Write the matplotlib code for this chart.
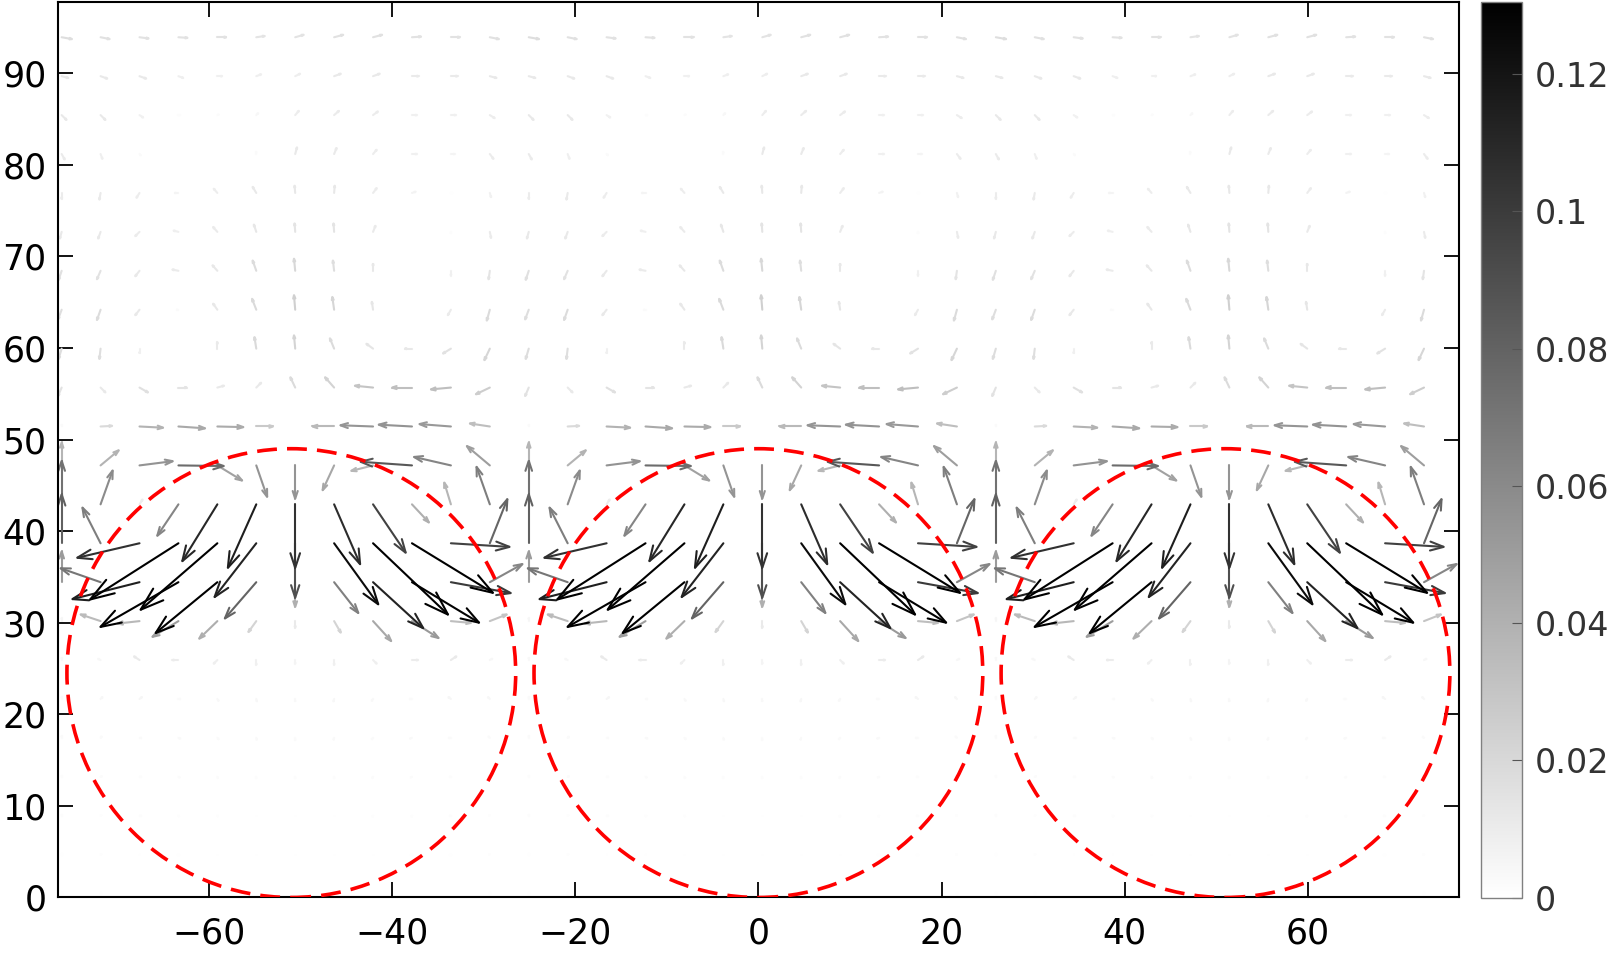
"""
Flow field above a periodic row of spheres, drawn as a MATLAB-style quiver
(open V heads) coloured by speed, with the sphere outlines dashed in red.
"""

import matplotlib

matplotlib.use("Agg")
import matplotlib.pyplot as plt
import numpy as np
from matplotlib.cm import ScalarMappable
from matplotlib.collections import LineCollection
from matplotlib.colors import Normalize
from matplotlib.patches import Circle

# ---------------------------------------------------------------- data
# one periodic cell of the field (the picture repeats it three times)
CELL_CENTERS = [-51.0, 0.0, 51.0]
CELL_X = [-25.075, -20.825, -16.575, -12.325, -8.075, -3.825,
          0.425, 4.675, 8.925, 13.175, 17.425, 21.675]
ROW_Y = [0.425, 4.675, 8.925, 13.175, 17.425, 21.675, 25.925, 30.175,
         34.425, 38.675, 42.925, 47.175, 51.425, 55.675, 59.925, 64.175,
         68.425, 72.675, 76.925, 81.175, 85.425, 89.675, 93.925]

# velocity components, one row per ROW_Y (bottom to top), one entry per CELL_X
U_CELL = [
    [0, 0, 0, 0, 0, 0, 0, 0, 0, 0, 0, 0],
    [0, 0.001, 0.001, 0.001, 0, 0, 0, 0, 0, -0.001, -0.001, -0.001],
    [0, 0.001, 0.002, 0.001, 0.001, 0, 0, 0, -0.001, -0.001, -0.002, -0.001],
    [0, 0.002, 0.002, 0.002, 0.001, 0, 0, 0, -0.001, -0.002, -0.002, -0.002],
    [0, 0.002, 0.003, 0.003, 0.002, 0.001, 0, -0.001, -0.002, -0.003, -0.003, -0.002],
    [0, 0.003, 0.004, 0.003, 0.002, 0.001, 0, -0.001, -0.002, -0.003, -0.004, -0.003],
    [0, -0.004, -0.009, -0.010, -0.006, 0, 0, 0, 0.006, 0.010, 0.009, 0.004],
    [0, -0.033, -0.036, -0.043, -0.030, -0.013, 0, 0.011, 0.030, 0.044, 0.033, 0.028],
    [0, -0.066, -0.111, -0.129, -0.102, -0.052, 0, 0.040, 0.083, 0.111, 0.099, 0.054],
    [0, -0.030, -0.103, -0.146, -0.127, -0.069, 0, 0.073, 0.124, 0.134, 0.097, 0.029],
    [0, 0.020, 0.005, -0.035, -0.058, -0.047, 0, 0.043, 0.054, 0.028, -0.011, -0.022],
    [0, 0.030, 0.055, 0.075, 0.041, 0.018, 0, -0.019, -0.036, -0.085, -0.061, -0.038],
    [0, 0.019, 0.039, 0.044, 0.043, 0.028, 0, -0.036, -0.054, -0.055, -0.052, -0.033],
    [-0.006, 0.008, 0.014, 0.014, 0.011, 0.008, -0.008, -0.015, -0.030, -0.033, -0.033, -0.023],
    [-0.005, -0.002, 0, 0, 0, -0.003, -0.002, -0.007, -0.011, -0.012, -0.013, -0.009],
    [-0.006, -0.006, -0.007, -0.003, -0.007, -0.007, -0.002, -0.003, -0.002, 0, -0.005, -0.005],
    [-0.005, -0.006, -0.007, -0.010, -0.008, -0.006, -0.002, -0.002, 0, 0, 0, -0.002],
    [-0.003, -0.004, -0.007, -0.008, -0.007, -0.004, -0.001, -0.001, 0.004, 0, 0, 0.002],
    [0, -0.002, -0.005, -0.006, -0.006, -0.006, -0.001, 0.001, 0.006, 0.006, 0.001, 0.002],
    [0.005, 0.003, 0.002, 0, 0, 0, 0.003, 0.004, 0.006, 0.008, 0.006, 0.006],
    [0.008, 0.008, 0.006, 0.002, 0.002, 0.003, 0.006, 0.008, 0.008, 0.008, 0.008, 0.008],
    [0.011, 0.011, 0.011, 0.008, 0.008, 0.008, 0.008, 0.011, 0.011, 0.011, 0.011, 0.011],
    [0.017, 0.015, 0.015, 0.015, 0.015, 0.014, 0.014, 0.015, 0.015, 0.015, 0.015, 0.015],
]
V_CELL = [
    [0.001, 0.001, 0, 0, 0, 0, 0, 0, 0, 0, 0, 0.001],
    [0.001, 0.001, 0, 0, -0.001, -0.001, -0.001, -0.001, -0.001, 0, 0, 0.001],
    [0.002, 0.001, 0, -0.001, -0.001, -0.001, -0.001, -0.001, -0.001, -0.001, 0, 0.001],
    [0.002, 0.001, 0, -0.001, -0.002, -0.002, -0.002, -0.002, -0.002, -0.001, 0, 0.001],
    [0.003, 0.002, 0, -0.001, -0.002, -0.003, -0.003, -0.003, -0.002, -0.001, 0, 0.002],
    [0.003, 0.003, 0.003, 0, -0.003, -0.004, -0.004, -0.004, -0.003, 0, 0.003, 0.003],
    [0.004, 0.002, 0.006, 0, -0.006, -0.008, -0.006, -0.008, -0.006, 0, 0.006, 0.002],
    [0.005, 0.011, -0.004, -0.026, -0.029, -0.018, -0.011, -0.019, -0.033, -0.028, -0.003, 0.011],
    [0.051, 0.023, -0.028, -0.074, -0.084, -0.060, -0.041, -0.051, -0.076, -0.067, -0.018, 0.030],
    [0.081, 0.059, -0.024, -0.093, -0.110, -0.089, -0.090, -0.101, -0.118, -0.082, -0.006, 0.073],
    [0.072, 0.056, 0.008, -0.052, -0.094, -0.105, -0.105, -0.099, -0.080, -0.030, 0.036, 0.062],
    [0.038, 0.025, 0.007, -0.001, -0.025, -0.052, -0.055, -0.041, -0.009, 0.006, 0.014, 0.032],
    [0.003, 0.001, -0.002, -0.003, -0.001, 0, 0, 0, 0.002, 0.003, 0.004, 0.005],
    [-0.014, -0.008, -0.008, 0, 0.003, 0.008, 0.017, 0.017, 0.003, 0, -0.003, -0.011],
    [-0.017, -0.017, -0.008, 0, 0.011, 0.019, 0.022, 0.017, 0.008, 0, -0.008, -0.019],
    [-0.016, -0.017, -0.009, 0, 0.010, 0.018, 0.024, 0.021, 0.013, 0, -0.009, -0.018],
    [-0.015, -0.014, -0.009, 0.002, 0.009, 0.017, 0.020, 0.017, 0.012, 0, -0.008, -0.014],
    [-0.011, -0.011, -0.007, 0.002, 0.008, 0.012, 0.014, 0.014, 0.010, 0, -0.002, -0.010],
    [-0.010, -0.011, -0.008, 0, 0.007, 0.010, 0.012, 0.012, 0.008, 0.002, 0, -0.007],
    [-0.009, -0.008, -0.002, 0, 0, 0.003, 0.011, 0.010, 0.007, 0, 0, -0.008],
    [-0.008, -0.008, -0.004, 0, 0.001, 0.003, 0.007, 0.007, 0.006, 0, 0, -0.005],
    [-0.003, -0.004, -0.004, -0.003, 0, 0.003, 0.004, 0.004, 0.004, 0, 0, -0.003],
    [-0.003, -0.003, -0.002, -0.001, 0, 0.002, 0.004, 0.004, 0.004, 0.001, 0, -0.003],
]

SPHERE_X = [-51.0, 0.0, 51.0]
SPHERE_Y = 24.5
SPHERE_R = 24.5

CBAR_TICKS = [0, 0.02, 0.04, 0.06, 0.08, 0.1, 0.12]
X_TICKS = [-60, -40, -20, 0, 20, 40, 60]
Y_TICKS = [0, 10, 20, 30, 40, 50, 60, 70, 80, 90]

# ---------------------------------------------------------------- style
ARROW_SCALE = 66.0      # data units per unit of speed
HEAD_ALPHA = 0.23       # head length as a fraction of the arrow
HEAD_BETA = 0.33        # head half-width relative to head length
SPEED_MAX = 0.1305
FONT_SIZE = 25


def quiver_segments(x, y, u, v):
    """Shaft and open V head for every arrow, like MATLAB's quiver."""
    du = ARROW_SCALE * u
    dv = ARROW_SCALE * v
    tip_x = x + du
    tip_y = y + dv
    segs = []
    for i in range(len(x)):
        shaft = [(x[i], y[i]), (tip_x[i], tip_y[i])]
        left = (tip_x[i] - HEAD_ALPHA * (du[i] + HEAD_BETA * dv[i]),
                tip_y[i] - HEAD_ALPHA * (dv[i] - HEAD_BETA * du[i]))
        right = (tip_x[i] - HEAD_ALPHA * (du[i] - HEAD_BETA * dv[i]),
                 tip_y[i] - HEAD_ALPHA * (dv[i] + HEAD_BETA * du[i]))
        head = [left, (tip_x[i], tip_y[i]), right]
        segs.append((shaft, head))
    return segs


plt.rcParams["font.family"] = "DejaVu Sans"
plt.rcParams["font.size"] = FONT_SIZE

fig = plt.figure(figsize=(16.09, 9.56), dpi=100)
ax = fig.add_axes([0.0359, 0.061, 0.8709, 0.9369])
cax = fig.add_axes([0.9203, 0.061, 0.0255, 0.9369])

u_cell = np.array(U_CELL)
v_cell = np.array(V_CELL)
xs, ys, us, vs = [], [], [], []
for cx in CELL_CENTERS:
    gx, gy = np.meshgrid(cx + np.array(CELL_X), np.array(ROW_Y))
    xs.append(gx.ravel())
    ys.append(gy.ravel())
    us.append(u_cell.ravel())
    vs.append(v_cell.ravel())
x = np.concatenate(xs)
y = np.concatenate(ys)
u = np.concatenate(us)
v = np.concatenate(vs)
speed = np.hypot(u, v)

keep = speed > 0
x, y, u, v, speed = x[keep], y[keep], u[keep], v[keep], speed[keep]
order = np.argsort(speed)
x, y, u, v, speed = x[order], y[order], u[order], v[order], speed[order]

norm = Normalize(0, SPEED_MAX, clip=True)
cmap = plt.get_cmap("gray_r")
colors = cmap(norm(speed))

lines, line_colors = [], []
for (shaft, head), col in zip(quiver_segments(x, y, u, v), colors):
    lines.extend([shaft, head])
    line_colors.extend([col, col])
ax.add_collection(LineCollection(lines, colors=line_colors, linewidths=1.5,
                                 capstyle="round", joinstyle="miter"))

for sx in SPHERE_X:
    ax.add_patch(Circle((sx, SPHERE_Y), SPHERE_R, fill=False, edgecolor="red",
                        linewidth=2.6, linestyle=(0, (5.5, 2.8)), zorder=5))

ax.set_xlim(-76.5, 76.5)
ax.set_ylim(0, 97.75)
ax.set_aspect("equal")
ax.set_xticks(X_TICKS)
ax.set_yticks(Y_TICKS)
ax.tick_params(direction="in", length=11, width=1.3, top=True, right=True,
               labelsize=FONT_SIZE, colors="black")
ax.tick_params(axis="x", pad=14)
ax.tick_params(axis="y", pad=8)
for spine in ax.spines.values():
    spine.set_linewidth(1.5)

sm = ScalarMappable(norm=Normalize(0, SPEED_MAX), cmap=cmap)
cbar = fig.colorbar(sm, cax=cax)
cbar.set_ticks(CBAR_TICKS)
cbar.set_ticklabels([f"{t:g}" for t in CBAR_TICKS])
cbar.outline.set_edgecolor("#808080")
cbar.outline.set_linewidth(1.0)
cax.tick_params(direction="in", length=7, width=0.8, color="#555555",
                labelsize=FONT_SIZE - 1, labelcolor="#333333", pad=9)

fig.savefig("out.png", dpi=100)
